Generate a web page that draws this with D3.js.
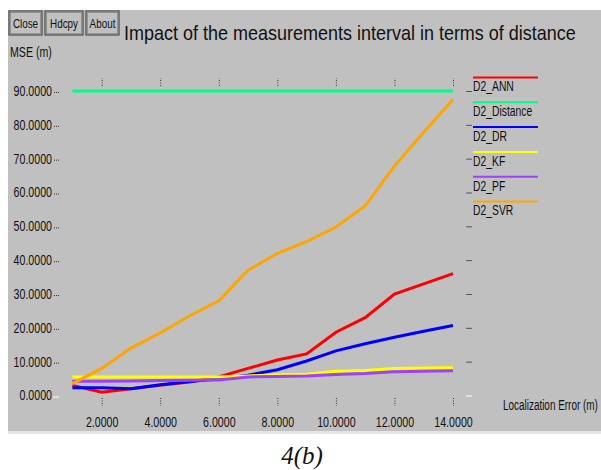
<!DOCTYPE html>
<html>
<head>
<meta charset="utf-8">
<script src="https://cdn.jsdelivr.net/npm/d3@7"></script>
<style>
  body { margin: 0; background: #fff; }
  text { font-family: "Liberation Sans", Arial, sans-serif; }
</style>
</head>
<body>
<div id="chart"></div>
<script>
const xValues = [1, 2, 3, 4, 5, 6, 7, 8, 9, 10, 11, 12, 13, 14];
const annValues = [3, 1, 2, 3, 4, 5.5, 8, 10.5, 12.3, 18.7, 23, 30, 33, 36];
const distanceValues = [90, 90, 90, 90, 90, 90, 90, 90, 90, 90, 90, 90, 90, 90];
const drValues = [2.3, 2.3, 2, 3.2, 4.1, 4.9, 6, 7.6, 10.2, 13.2, 15.3, 17.2, 19, 20.7];
const kfValues = [5.5, 5.5, 5.5, 5.5, 5.5, 5.5, 5.8, 6.1, 6.3, 7.2, 7.4, 8, 8.1, 8.2];
const pfValues = [4.2, 4.2, 4.3, 4.4, 4.5, 4.6, 5.5, 5.6, 5.8, 6.2, 6.5, 7, 7.2, 7.3];
const svrValues = [3.5, 8, 14, 18.5, 23.5, 28, 37, 42, 45.5, 49.8, 56, 67.8, 77.8, 87.5];
const seriesNames = ["D2_ANN", "D2_Distance", "D2_DR", "D2_KF", "D2_PF", "D2_SVR"];
const xTicks = [2, 4, 6, 8, 10, 12, 14];
const yTicks = [0, 10, 20, 30, 40, 50, 60, 70, 80, 90];
const buttons = ["Close", "Hdcpy", "About"];

const colors = ["#ff0000", "#00ff80", "#0000ff", "#ffff00", "#a040ff", "#ffa500"];
const allValues = [annValues, distanceValues, drValues, kfValues, pfValues, svrValues];
const series = seriesNames.map((name, i) => ({
  name: name,
  color: colors[i],
  points: xValues.map((x, j) => ({x: x, y: allValues[i][j]}))
}));

const width = 601, height = 470;
const svg = d3.select('#chart').append('svg')
  .attr('width', width)
  .attr('height', height);

// squeeze text horizontally, the original uses a condensed bitmap font
const narrow = (sel, k) => {
  sel.each(function () {
    const t = d3.select(this);
    const x0 = +t.attr('x') || 0;
    t.attr('x', x0 / k).attr('transform', `scale(${k},1)`);
  });
};
const fitText = (sel, w) => {
  const k = w / sel.node().getComputedTextLength();
  narrow(sel, k);
};

// panel
svg.append('rect')
  .attr('x', 8).attr('y', 10)
  .attr('width', width - 8).attr('height', 421)
  .attr('fill', '#c0c0c0');
svg.append('rect')
  .attr('x', 8).attr('y', 431)
  .attr('width', width - 8).attr('height', 3)
  .attr('fill', '#e4e4e4');

const x = d3.scaleLinear().domain([1, 14]).range([72.4, 453]);
const y = d3.scaleLinear().domain([0, 90]).range([395.5, 91]);

// buttons
const btnX = [9, 45, 86];
const btnW = [33, 38, 33];
const btn = svg.selectAll('g.btn').data(buttons).enter().append('g')
  .attr('class', 'btn')
  .attr('transform', (d, i) => `translate(${btnX[i]},11)`);
btn.append('rect')
  .attr('width', (d, i) => btnW[i]).attr('height', 24)
  .attr('fill', '#c0c0c0')
  .attr('stroke', '#333').attr('stroke-width', 1);
btn.append('rect')
  .attr('x', 1.5).attr('y', 1.5)
  .attr('width', (d, i) => btnW[i] - 3).attr('height', 21)
  .attr('fill', 'none')
  .attr('stroke', '#888').attr('stroke-width', 0.8);
btn.append('text')
  .attr('x', (d, i) => btnW[i] / 2).attr('y', 17)
  .attr('text-anchor', 'middle')
  .style('font-size', '13px')
  .attr('fill', '#111')
  .text(d => d)
  .call(narrow, 0.76);

// title
svg.append('text')
  .attr('x', 124).attr('y', 40)
  .style('font-size', '21px')
  .attr('fill', '#111')
  .text('Impact of the measurements interval in terms of distance')
  .call(fitText, 452);

svg.append('text')
  .attr('x', 10).attr('y', 57)
  .style('font-size', '14px')
  .attr('fill', '#111')
  .text('MSE (m)')
  .call(narrow, 0.76);

svg.append('text')
  .attr('x', 503).attr('y', 410)
  .style('font-size', '14px')
  .attr('fill', '#111')
  .text('Localization Error (m)')
  .call(fitText, 95);

// axes
const styleAxis = (g) => {
  g.select('.domain').remove();
  g.selectAll('.tick line')
    .attr('stroke', '#333')
    .attr('stroke-dasharray', '1,1.5');
  g.selectAll('.tick text')
    .attr('fill', '#111')
    .style('font-size', '14px')
    .call(narrow, 0.76);
};

svg.append('g')
  .attr('transform', 'translate(0,398)')
  .call(d3.axisBottom(x).tickValues(xTicks).tickFormat(d3.format('.4f')).tickSize(8).tickPadding(11))
  .call(styleAxis);

svg.append('g')
  .attr('transform', 'translate(0,86)')
  .call(d3.axisTop(x).tickValues(xTicks).tickFormat('').tickSize(8))
  .call(styleAxis);

const left = svg.append('g')
  .attr('transform', 'translate(59,0)')
  .call(d3.axisLeft(y).tickValues(yTicks).tickFormat(d3.format('.4f')).tickSize(6).tickPadding(1))
  .call(styleAxis);
left.selectAll('.tick line')
  .attr('transform', 'translate(0,1)')
  .attr('stroke-dasharray', d => d === 0 ? null : '1,1')
  .attr('stroke', d => d === 0 ? '#fff' : '#333');

const right = svg.append('g')
  .attr('transform', 'translate(466,0)')
  .call(d3.axisRight(y).tickValues(yTicks).tickFormat('').tickSize(6))
  .call(styleAxis);
right.selectAll('.tick line')
  .attr('stroke-dasharray', null)
  .attr('stroke', d => d === 0 ? '#fff' : '#555');

// lines
const line = d3.line()
  .x(d => x(d.x))
  .y(d => y(d.y));

svg.selectAll('path.series')
  .data(series)
  .enter().append('path')
  .attr('class', 'series')
  .attr('fill', 'none')
  .attr('stroke', d => d.color)
  .attr('stroke-width', 3)
  .attr('d', d => line(d.points));

// legend
const legend = svg.selectAll('g.legend')
  .data(series)
  .enter().append('g')
  .attr('class', 'legend')
  .attr('transform', (d, i) => `translate(473,${77.5 + i * 24.8})`);
legend.append('line')
  .attr('x1', 0).attr('x2', 65)
  .attr('stroke', d => d.color)
  .attr('stroke-width', 2);
legend.append('text')
  .attr('x', 0).attr('y', 14)
  .style('font-size', '14px')
  .attr('fill', '#111')
  .text(d => d.name)
  .call(narrow, 0.74);

// caption
svg.append('text')
  .attr('x', 302).attr('y', 464)
  .attr('text-anchor', 'middle')
  .style('font-family', '"Liberation Serif", "Times New Roman", serif')
  .style('font-style', 'italic')
  .style('font-size', '25px')
  .attr('fill', '#111')
  .text('4(b)');
</script>
</body>
</html>
